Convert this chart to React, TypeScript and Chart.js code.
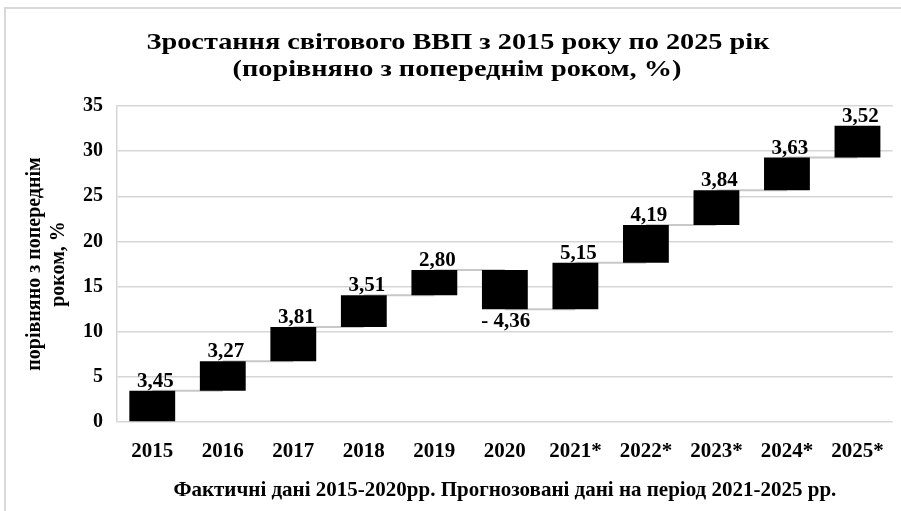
import React, { useEffect, useRef } from "react";
import { Chart, registerables } from "chart.js";

Chart.register(...registerables);

const years = ["2015", "2016", "2017", "2018", "2019", "2020", "2021*", "2022*", "2023*", "2024*", "2025*"];
const growth = [3.45, 3.27, 3.81, 3.51, 2.8, -4.36, 5.15, 4.19, 3.84, 3.63, 3.52];
const yMin = 0;
const yMax = 35;
const yStep = 5;
const titleLines = ["Зростання світового ВВП з 2015 року по 2025 рік", "(порівняно з попереднім роком, %)"];
const yTitle = ["порівняно з попереднім", "роком, %"];
const xTitle = "Фактичні дані 2015-2020рр. Прогнозовані дані на період 2021-2025 рр.";

const FONT = '"Liberation Serif", "Times New Roman", serif';
const GRID = "#d6d6d6";

function fmt(v: number): string {
  const s = Math.abs(v).toFixed(2).replace(".", ",");
  return v < 0 ? "- " + s : s;
}

export default function App() {
  const ref = useRef<HTMLCanvasElement | null>(null);

  useEffect(() => {
    if (!ref.current) return;
    const ranges: [number, number][] = [];
    const ends: number[] = [];
    let acc = 0;
    for (const g of growth) {
      ranges.push([acc, acc + g]);
      acc += g;
      ends.push(acc);
    }

    const framePlugin = {
      id: "frame",
      beforeDraw(chart: any) {
        const ctx = chart.ctx;
        ctx.save();
        ctx.fillStyle = "#ffffff";
        ctx.fillRect(0, 0, chart.width, chart.height);
        ctx.strokeStyle = "#d9d9d9";
        ctx.lineWidth = 2;
        ctx.strokeRect(5, 8, chart.width + 20, chart.height + 20);
        ctx.restore();
      },
    };

    const titlePlugin = {
      id: "bigTitle",
      afterDraw(chart: any) {
        const ctx = chart.ctx;
        const stretch = 1.23;
        ctx.save();
        ctx.fillStyle = "#000";
        ctx.font = `bold 23px ${FONT}`;
        ctx.textAlign = "center";
        ctx.textBaseline = "alphabetic";
        ctx.save();
        ctx.translate(458, 49);
        ctx.scale(stretch, 1);
        ctx.fillText(titleLines[0], 0, 0);
        ctx.restore();
        ctx.save();
        ctx.translate(457, 76);
        ctx.scale(stretch, 1);
        ctx.fillText(titleLines[1], 0, 0);
        ctx.restore();
        ctx.restore();
      },
    };

    const connectorPlugin = {
      id: "connectors",
      beforeDatasetsDraw(chart: any) {
        const meta = chart.getDatasetMeta(0);
        const y = chart.scales.y;
        const ctx = chart.ctx;
        ctx.save();
        ctx.strokeStyle = "#c8c8c8";
        ctx.lineWidth = 2;
        for (let i = 0; i < ends.length - 1; i++) {
          const a = meta.data[i];
          const b = meta.data[i + 1];
          const py = y.getPixelForValue(ends[i]);
          ctx.beginPath();
          ctx.moveTo(a.x, py);
          ctx.lineTo(b.x, py);
          ctx.stroke();
        }
        ctx.restore();
      },
    };

    const labelPlugin = {
      id: "valueLabels",
      afterDatasetsDraw(chart: any) {
        const meta = chart.getDatasetMeta(0);
        const y = chart.scales.y;
        const ctx = chart.ctx;
        ctx.save();
        ctx.fillStyle = "#000";
        ctx.font = `bold 21px ${FONT}`;
        ctx.textAlign = "center";
        meta.data.forEach((el: any, i: number) => {
          const g = growth[i];
          const e = ranges[i][1];
          if (g >= 0) {
            ctx.textBaseline = "alphabetic";
            ctx.fillText(fmt(g), el.x + 3, y.getPixelForValue(e) - 4);
          } else {
            ctx.textBaseline = "top";
            ctx.fillText(fmt(g), el.x + 1, y.getPixelForValue(e) + 2);
          }
        });
        ctx.restore();
      },
    };

    const chart = new Chart(ref.current, {
      type: "bar",
      data: {
        labels: years,
        datasets: [
          {
            data: ranges as any,
            backgroundColor: "#000000",
            borderWidth: 0,
            barPercentage: 0.65,
            categoryPercentage: 1,
          },
        ],
      },
      options: {
        animation: false,
        responsive: false,
        devicePixelRatio: 1,
        layout: { padding: { top: 106, right: 6, bottom: 0, left: 0 } },
        plugins: {
          legend: { display: false },
          tooltip: { enabled: false },
          title: { display: false },
        },
        scales: {
          x: {
            grid: { display: false, drawTicks: false },
            border: { display: false },
            ticks: {
              color: "#000",
              font: { family: FONT, size: 21, weight: "bold" },
              padding: 17,
              maxRotation: 0,
              autoSkip: false,
            },
            title: {
              display: true,
              text: xTitle,
              color: "#000",
              font: { family: FONT, size: 21, weight: "bold" },
              padding: { top: 0, bottom: 8 },
            },
            afterFit(scale: any) {
              scale.height = 89;
            },
          },
          y: {
            min: yMin,
            max: yMax,
            grid: { color: GRID, lineWidth: 1.5, drawTicks: false },
            border: { display: true, color: GRID, width: 1.5 },
            ticks: {
              stepSize: yStep,
              color: "#000",
              font: { family: FONT, size: 20, weight: "bold" },
              padding: 14,
            },
            title: {
              display: true,
              text: yTitle,
              color: "#000",
              font: { family: FONT, size: 20, weight: "bold" },
              padding: { top: 23, bottom: 0 },
            },
            afterFit(scale: any) {
              scale.width = 117;
            },
          },
        },
      },
      plugins: [framePlugin, connectorPlugin, labelPlugin, titlePlugin],
    });
    return () => chart.destroy();
  }, []);

  return (
    <div style={{ position: "fixed", left: 0, top: 0, width: 901, height: 511, background: "#fff" }}>
      <canvas ref={ref} width={901} height={511} style={{ display: "block" }} />
    </div>
  );
}
